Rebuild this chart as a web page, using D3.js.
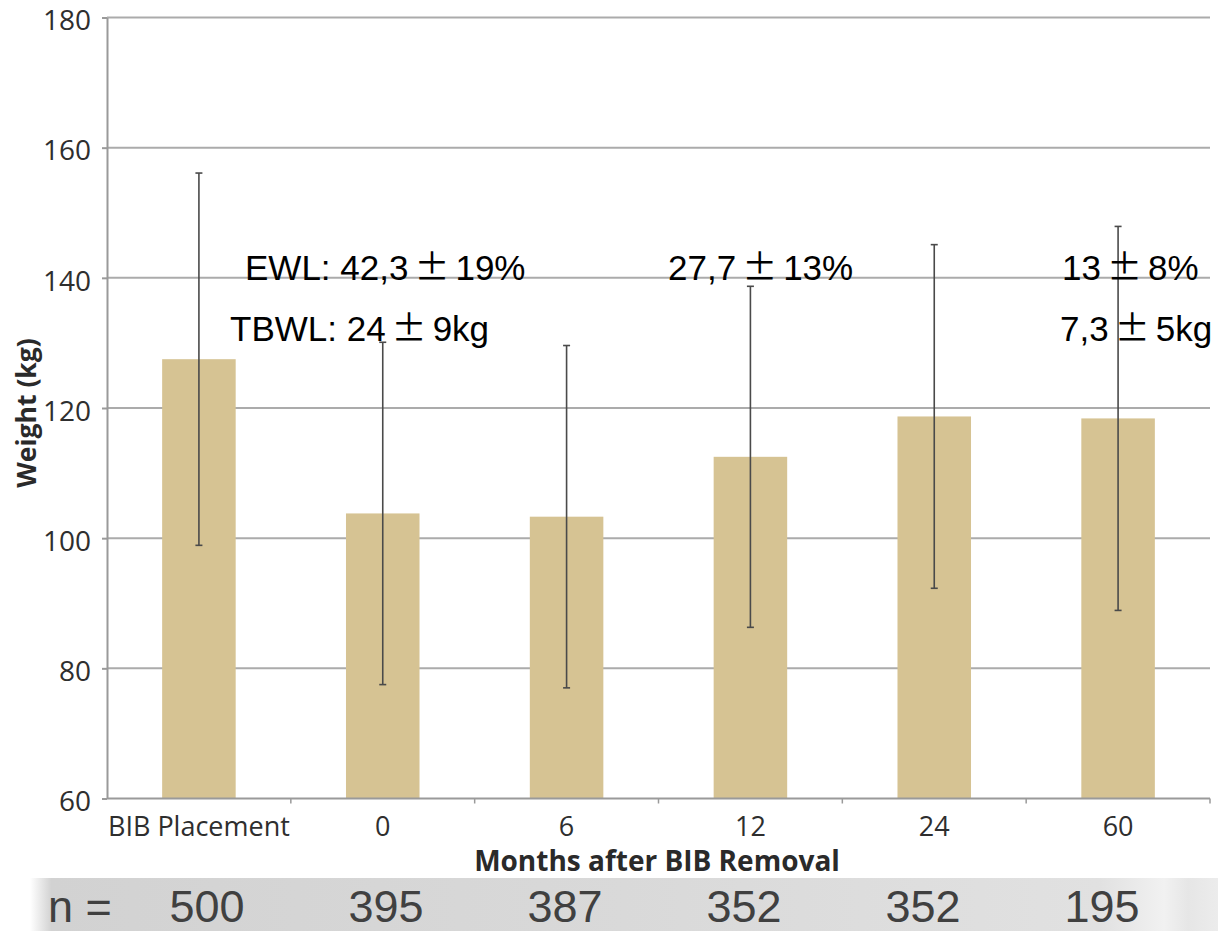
<!DOCTYPE html>
<html>
<head>
<meta charset="utf-8">
<script src="https://cdn.jsdelivr.net/npm/d3@7"></script>
<style>
  html, body { margin: 0; padding: 0; background: #fff; }
  svg { display: block; }
</style>
</head>
<body>
<svg id="chart" width="1218" height="931"></svg>
<script>
// Mean body weight (kg) with standard deviation at each time point
const categories = ["BIB Placement", "0", "6", "12", "24", "60"];
const meanWeight = [127.5, 103.8, 103.3, 112.5, 118.7, 118.4];
const sdWeight   = [28.6, 26.3, 26.3, 26.2, 26.4, 29.5];
const sampleSize = [500, 395, 387, 352, 352, 195];
const yTicks = [60, 80, 100, 120, 140, 160, 180];

// Weight-loss annotations (EWL / TBWL) above the bars
const annotLines = [
  { pre: "EWL: 42,3", post: "19%", x: 245, y: 280 },
  { pre: "TBWL: 24",  post: "9kg", x: 230, y: 341 },
  { pre: "27,7",      post: "13%", x: 668, y: 280 },
  { pre: "13",        post: "8%",  x: 1062, y: 280 },
  { pre: "7,3",       post: "5kg", x: 1060, y: 341 }
];

const svg = d3.select("#chart");
const plot = { left: 107, right: 1210, top: 17.5, bottom: 798.5 };

const x = d3.scaleBand()
  .domain(categories)
  .range([plot.left, plot.right])
  .paddingInner(0.6)
  .paddingOuter(0.3);

const y = d3.scaleLinear()
  .domain([60, 180])
  .range([plot.bottom, plot.top]);

const axisFont = "'Open Sans', 'Noto Sans', sans-serif";
const gridColor = "#ababab";

// horizontal gridlines
svg.append("g")
  .selectAll("line")
  .data(yTicks.filter(t => t > 60))
  .join("line")
  .attr("x1", plot.left)
  .attr("x2", plot.right)
  .attr("y1", d => y(d))
  .attr("y2", d => y(d))
  .attr("stroke", gridColor)
  .attr("stroke-width", 2);

// bars
const data = categories.map((c, i) => ({ c, m: meanWeight[i], sd: sdWeight[i], n: sampleSize[i] }));

svg.append("g")
  .selectAll("rect")
  .data(data)
  .join("rect")
  .attr("x", d => x(d.c))
  .attr("width", x.bandwidth())
  .attr("y", d => y(d.m))
  .attr("height", d => y(60) - y(d.m))
  .attr("fill", "#d6c393");

// error bars
const eb = svg.append("g")
  .attr("stroke", "#4a4a4a")
  .attr("stroke-width", 1.6);

eb.selectAll("line.v")
  .data(data)
  .join("line")
  .attr("class", "v")
  .attr("x1", d => x(d.c) + x.bandwidth() / 2)
  .attr("x2", d => x(d.c) + x.bandwidth() / 2)
  .attr("y1", d => y(d.m + d.sd))
  .attr("y2", d => y(d.m - d.sd));

["top", "bot"].forEach(k => {
  eb.selectAll("line." + k)
    .data(data)
    .join("line")
    .attr("class", k)
    .attr("x1", d => x(d.c) + x.bandwidth() / 2 - 3.5)
    .attr("x2", d => x(d.c) + x.bandwidth() / 2 + 3.5)
    .attr("y1", d => y(k === "top" ? d.m + d.sd : d.m - d.sd))
    .attr("y2", d => y(k === "top" ? d.m + d.sd : d.m - d.sd));
});

// y axis
const yAxis = svg.append("g")
  .attr("transform", `translate(${plot.left},0)`)
  .call(d3.axisLeft(y).tickValues(yTicks).tickSize(5).tickPadding(11).tickSizeOuter(0));
yAxis.select(".domain").attr("stroke", "#9a9a9a").attr("stroke-width", 2);
yAxis.selectAll(".tick line").attr("stroke", "#9a9a9a").attr("stroke-width", 2);
yAxis.selectAll(".tick text")
  .attr("font-family", axisFont)
  .attr("font-size", 28)
  .attr("fill", "#2e2e2e")
  .attr("dy", "0.44em");

// x axis: ticks sit on the band boundaries
const xAxisG = svg.append("g")
  .attr("transform", `translate(0,${plot.bottom})`);
xAxisG.append("line")
  .attr("x1", plot.left).attr("x2", plot.right)
  .attr("stroke", "#9a9a9a").attr("stroke-width", 2);
xAxisG.selectAll("line.tk")
  .data(categories)
  .join("line")
  .attr("class", "tk")
  .attr("x1", d => x(d) + x.bandwidth() + x.step() * x.paddingInner() / 2)
  .attr("x2", d => x(d) + x.bandwidth() + x.step() * x.paddingInner() / 2)
  .attr("y1", 0).attr("y2", 5)
  .attr("stroke", "#9a9a9a").attr("stroke-width", 1.5);
xAxisG.selectAll("text")
  .data(categories)
  .join("text")
  .attr("x", d => x(d) + x.bandwidth() / 2)
  .attr("y", 37)
  .attr("text-anchor", "middle")
  .attr("font-family", axisFont)
  .attr("font-size", 27)
  .attr("fill", "#2e2e2e")
  .text(d => d);

// axis titles
svg.append("text")
  .attr("x", 657)
  .attr("y", 871)
  .attr("text-anchor", "middle")
  .attr("font-family", axisFont)
  .attr("font-weight", 700)
  .attr("font-size", 28)
  .attr("fill", "#2a2a2a")
  .text("Months after BIB Removal");

svg.append("text")
  .attr("transform", "translate(36,413) rotate(-90)")
  .attr("text-anchor", "middle")
  .attr("font-family", axisFont)
  .attr("font-weight", 700)
  .attr("font-size", 26.5)
  .attr("fill", "#2a2a2a")
  .text("Weight (kg)");

// annotations
const ann = svg.append("g")
  .attr("font-family", "'Liberation Sans', Arial, sans-serif")
  .attr("font-size", 35)
  .attr("fill", "#000");
annotLines.forEach(a => {
  const t = ann.append("text").attr("x", a.x).attr("y", a.y);
  t.append("tspan").text(a.pre);
  t.append("tspan").attr("dx", 6).attr("font-family", "'Noto Sans CJK JP', sans-serif").text("±");
  t.append("tspan").attr("dx", 6).text(a.post);
});

// sample size strip
const defs = svg.append("defs");
const grad = defs.append("linearGradient").attr("id", "nband").attr("x1", "0").attr("x2", "1");
[[0, "#ffffff"], [0.018, "#d2d2d2"], [0.5, "#d9d9d9"], [0.9, "#e1e1e1"], [0.955, "#f1f1f1"], [0.975, "#e6e6e6"], [1, "#ececec"]]
  .forEach(([o, c]) => grad.append("stop").attr("offset", o).attr("stop-color", c));
svg.append("rect")
  .attr("x", 30).attr("y", 878).attr("width", 1188).attr("height", 53)
  .attr("fill", "url(#nband)");

const xn = d3.scalePoint().domain(categories).range([207, 1102]);
const nFont = "'Liberation Sans', Arial, sans-serif";
svg.append("text")
  .attr("x", 48).attr("y", 922)
  .attr("font-family", nFont).attr("font-size", 45).attr("fill", "#404040")
  .text("n =");
svg.append("g")
  .selectAll("text")
  .data(data)
  .join("text")
  .attr("x", d => xn(d.c))
  .attr("y", 922)
  .attr("text-anchor", "middle")
  .attr("font-family", nFont)
  .attr("font-size", 45)
  .attr("fill", "#404040")
  .text(d => d.n);
</script>
</body>
</html>
